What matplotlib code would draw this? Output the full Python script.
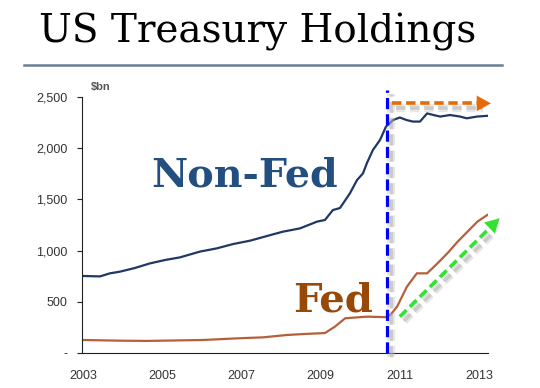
import matplotlib
matplotlib.use('Agg')
import matplotlib.pyplot as plt
import matplotlib.patheffects as pe
from matplotlib.ticker import FuncFormatter

# values ($bn)
nonfed_years = [2003.0, 2003.43, 2003.68, 2003.93, 2004.31, 2004.69, 2005.07, 2005.45,
                2005.95, 2006.38, 2006.79, 2007.22, 2007.65, 2008.05, 2008.48, 2008.91,
                2009.11, 2009.31, 2009.49, 2009.74, 2009.92, 2010.07, 2010.17, 2010.32,
                2010.5, 2010.65, 2010.83, 2011.0, 2011.17, 2011.33, 2011.51, 2011.69,
                2011.85, 2012.02, 2012.27, 2012.52, 2012.69, 2012.95, 2013.2]
nonfed_vals = [752, 748, 778, 794, 830, 875, 908, 934,
               990, 1022, 1064, 1097, 1143, 1185, 1217, 1283,
               1299, 1396, 1416, 1559, 1689, 1754, 1855, 1982,
               2080, 2210, 2275, 2300, 2275, 2260, 2260, 2340,
               2324, 2309, 2324, 2309, 2292, 2309, 2316]

fed_years = [2003.0, 2004.01, 2004.62, 2006.03, 2006.89, 2007.55, 2008.15, 2008.56,
             2009.11, 2009.36, 2009.62, 2010.17, 2010.63, 2010.76, 2010.93, 2011.18,
             2011.43, 2011.69, 2011.95, 2012.2, 2012.46, 2012.71, 2012.96, 2013.21]
fed_vals = [127, 120, 118, 127, 143, 153, 176, 185,
            195, 257, 339, 355, 350, 371, 452, 648,
            778, 778, 875, 973, 1087, 1185, 1283, 1348]

xticks = [2003, 2005, 2007, 2009, 2011, 2013]
yticks = [0, 500, 1000, 1500, 2000, 2500]

fig = plt.figure(figsize=(5.4, 3.88), dpi=100)
fig.patch.set_facecolor('white')

# title and rule
fig.text(0.478, 0.918, 'US Treasury Holdings', ha='center', va='center',
         family='DejaVu Serif', fontsize=28, color='black')
fig.add_artist(plt.Line2D([24/540, 502/540], [1-65/388, 1-65/388],
                          color='#6a7f94', lw=1.8))

ax = fig.add_axes([82/540, 35/388, 406/540, 256/388])
ax.set_xlim(2002.975, 2013.227)
ax.set_ylim(0, 2500)

ax.plot(nonfed_years, nonfed_vals, color='#1f3864', lw=1.6)
ax.plot(fed_years, fed_vals, color='#b5603a', lw=1.6)

# soft grey drop shadow
shadow = [pe.SimpleLineShadow(offset=(3, -3), shadow_color='#bbbbbb', alpha=0.35, linewidth=6),
          pe.SimpleLineShadow(offset=(3, -3), shadow_color='#aaaaaa', alpha=0.45),
          pe.Normal()]

# vertical divider
ax.plot([2010.68, 2010.68], [0, 2570], color='#0000ff', lw=2.3, dashes=(3.5, 1.6),
        clip_on=False, path_effects=shadow, zorder=5)

# trend arrows
ax.plot([2010.80, 2013.0], [2438, 2438], color='#e36c09', lw=2.6, dashes=(2.6, 1.3),
        clip_on=False, path_effects=shadow, zorder=5)
ax.annotate('', xy=(2013.37, 2438), xytext=(2012.95, 2438),
            arrowprops=dict(arrowstyle='-|>,head_length=1.0,head_width=0.55',
                            color='#e36c09', lw=0.1), annotation_clip=False, zorder=5)
ax.plot([2011.0, 2013.28], [355, 1225], color='#33e033', lw=2.6, dashes=(2.6, 1.3),
        clip_on=False, path_effects=shadow, zorder=5)
ax.annotate('', xy=(2013.57, 1335), xytext=(2013.2, 1195),
            arrowprops=dict(arrowstyle='-|>,head_length=1.0,head_width=0.55',
                            color='#33e033', lw=0.1), annotation_clip=False, zorder=5)

# series labels
ax.text(2004.72, 1625, 'Non-Fed', family='DejaVu Serif', fontweight='bold',
        fontsize=28.5, color='#234e80', va='baseline')
ax.text(2008.3, 410, 'Fed', family='DejaVu Serif', fontweight='bold',
        fontsize=29, color='#984807', va='baseline')

ax.text(2003.2, 2570, '\\$bn', fontsize=8, fontweight='bold', color='#555555',
        family='Liberation Sans')

for s in ['top', 'right']:
    ax.spines[s].set_visible(False)
ax.spines['left'].set_color('#222222')
ax.spines['bottom'].set_color('#222222')
ax.spines['left'].set_linewidth(0.8)
ax.spines['bottom'].set_linewidth(0.8)

ax.set_xticks(xticks)
ax.set_yticks(yticks)
ax.yaxis.set_major_formatter(FuncFormatter(lambda v, p: '-' if v == 0 else f'{int(v):,}'))
ax.tick_params(axis='x', length=0, pad=12, labelsize=9, labelcolor='#333333')
ax.tick_params(axis='y', length=3.6, pad=7, labelsize=9, labelcolor='#333333',
               color='#222222', width=0.8)
for lab in ax.get_xticklabels() + ax.get_yticklabels():
    lab.set_family('Liberation Sans')

fig.savefig('out.png', dpi=100, facecolor='white')
